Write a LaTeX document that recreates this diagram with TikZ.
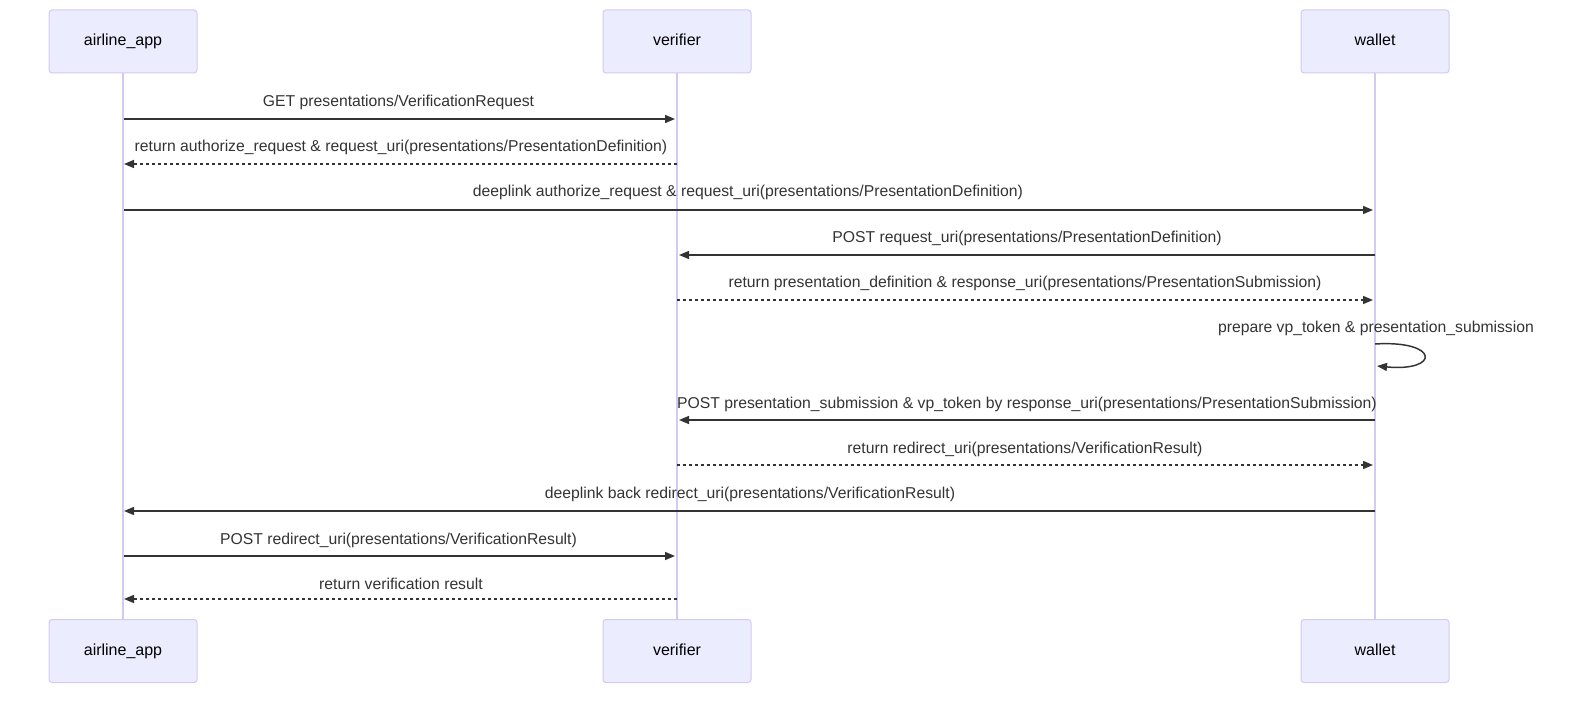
\documentclass[tikz,border=0pt]{standalone}
\usepackage{fontspec}
\setmainfont{Liberation Sans}
\usetikzlibrary{arrows.meta}
\definecolor{actfill}{HTML}{ECECFF}
\definecolor{actline}{HTML}{D3C9F2}
\definecolor{msgcol}{HTML}{333333}
\tikzset{
  actor/.style={draw=actline, fill=actfill, line width=0.75pt, rounded corners=2.25pt,
    minimum width=148*0.75pt, minimum height=63*0.75pt, inner sep=0pt,
    font=\fontsize{12}{14}\selectfont, text=black, text height=8.6pt, text depth=2.6pt},
  lifeline/.style={draw=actline, line width=1pt},
  msg/.style={draw=msgcol, line width=1.1pt, -{Triangle[length=7.5pt,width=6pt]}},
  reply/.style={msg, dash pattern=on 2.25pt off 2.25pt},
  lbl/.style={font=\fontsize{11.8}{14}\selectfont, text=msgcol, inner sep=0pt, text height=8.5pt, text depth=2.5pt}
}
\begin{document}
\begin{tikzpicture}[x=0.75pt,y=-0.75pt]
\useasboundingbox (0,0) rectangle (1594,705);
% actors
\node[actor] (aT) at (123,41.5) {airline\_app};
\node[actor] (vT) at (677,41.5) {verifier};
\node[actor] (wT) at (1375,41.5) {wallet};
\node[actor] (aB) at (123,651) {airline\_app};
\node[actor] (vB) at (677,651) {verifier};
\node[actor] (wB) at (1375,651) {wallet};
% lifelines
\draw[lifeline] (aT.south) -- (aB.north);
\draw[lifeline] (vT.south) -- (vB.north);
\draw[lifeline] (wT.south) -- (wB.north);
% message coordinates
\foreach \i/\y in {1/119,2/164,3/210,4/255,5/300,7/420,8/465,9/511,10/556,11/599}{
  \coordinate (a\i) at (124,\y);
  \coordinate (v\i) at (677,\y);
  \coordinate (w\i) at (1375,\y);
}
\coordinate (vL1) at (675,119);
\coordinate (vL10) at (675,556);
\coordinate (vR4) at (679,255);
\coordinate (vR7) at (679,420);
\coordinate (wL3) at (1373,210);
\coordinate (wL5) at (1373,300);
\coordinate (wL8) at (1373,465);
\coordinate (aR2) at (124,164);
\coordinate (aR9) at (124,511);
\coordinate (aR11) at (124,599);
% messages
\draw[msg] (a1) -- (vL1);
\node[lbl] (t1) at (398.5,103) {GET presentations/VerificationRequest};
\draw[reply] (v2) -- (aR2);
\node[lbl] (t2) at (401,148) {return authorize\_request \& request\_uri(presentations/PresentationDefinition)};
\draw[msg] (a3) -- (wL3);
\node[lbl] (t3) at (748,193) {deeplink authorize\_request \& request\_uri(presentations/PresentationDefinition)};
\draw[msg] (w4) -- (vR4);
\node[lbl] (t4) at (1027,239) {POST request\_uri(presentations/PresentationDefinition)};
\draw[reply] (v5) -- (wL5);
\node[lbl] (t5) at (1025,284) {return presentation\_definition \& response\_uri(presentations/PresentationSubmission)};
\coordinate (s1) at (1375,344);
\coordinate (s2) at (1377,366);
\draw[msg] (s1) .. controls (1440,340) and (1440,372) .. (s2);
\node[lbl] (t6) at (1376,329) {prepare vp\_token \& presentation\_submission};
\draw[msg] (w7) -- (vR7);
\node[lbl] (t7) at (1027,404) {POST presentation\_submission \& vp\_token by response\_uri(presentations/PresentationSubmission)};
\draw[reply] (v8) -- (wL8);
\node[lbl] (t8) at (1025,449) {return redirect\_uri(presentations/VerificationResult)};
\draw[msg] (w9) -- (aR9);
\node[lbl] (t9) at (750,494) {deeplink back redirect\_uri(presentations/VerificationResult)};
\draw[msg] (a10) -- (vL10);
\node[lbl] (t10) at (398.5,540) {POST redirect\_uri(presentations/VerificationResult)};
\draw[reply] (v11) -- (aR11);
\node[lbl] (t11) at (401,585) {return verification result};
\end{tikzpicture}
\end{document}
